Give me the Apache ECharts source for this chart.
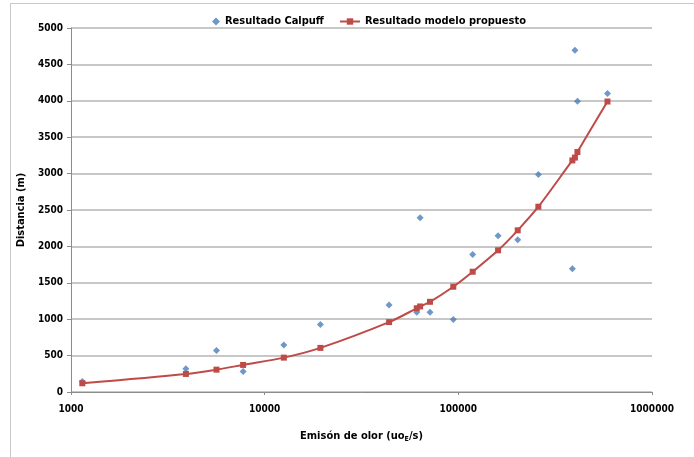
<!DOCTYPE html>
<html>
<head>
<meta charset="utf-8">
<script src="https://cdn.jsdelivr.net/npm/echarts@6/dist/echarts.min.js"></script>
<style>
  html, body { margin: 0; padding: 0; background: #fff; }
  #chart { width: 694px; height: 457px; }
</style>
</head>
<body>
<div id="chart"></div>
<script>
// Emission rates (uoE/s) shared by both series
const emisiones = [1144, 3920, 5640, 7740, 12560, 19400, 43900, 61000, 63500, 71400,
                   94200, 118600, 160400, 202600, 259000, 388000, 400000, 412000, 589000];
// Distances from the Calpuff runs (m)
const calpuff = [145, 321, 569, 280, 647, 927, 1194, 1097, 2392, 1097,
                 996, 1890, 2148, 2093, 2988, 1694, 4696, 3993, 4099];
// Distances from the proposed model (m)
const modelo = [120, 248, 307, 372, 472, 606, 960, 1150, 1175, 1239,
                1446, 1652, 1946, 2221, 2545, 3181, 3220, 3296, 3990];
const xTicks = [1000, 10000, 100000, 1000000];
const yTicks = [0, 500, 1000, 1500, 2000, 2500, 3000, 3500, 4000, 4500, 5000];

const FONT = '"Liberation Sans Narrow", "DejaVu Sans Condensed", "Liberation Sans", sans-serif';
const BLUE = '#4a7ebb';
const RED = '#be4b48';
const legendText = { fontFamily: FONT, fontSize: 11, fontWeight: 'bold', color: '#000' };

const chart = echarts.init(document.getElementById('chart'), null, { renderer: 'canvas' });
chart.setOption({
  animation: false,
  backgroundColor: '#fff',
  textStyle: { fontFamily: FONT },
  graphic: [{
    type: 'rect',
    shape: { x: 10.5, y: 3.5, width: 700, height: 480 },
    style: { fill: 'none', stroke: '#c8c8c8', lineWidth: 1 },
    silent: true
  }],
  legend: [
    {
      top: 11,
      left: 207,
      itemWidth: 8,
      itemHeight: 8,
      itemGap: 4,
      textStyle: legendText,
      data: [{ name: 'Resultado Calpuff', icon: 'diamond' }]
    },
    {
      top: 11,
      left: 334,
      itemWidth: 20,
      itemHeight: 8,
      textStyle: legendText,
      data: [{ name: 'Resultado modelo propuesto' }]
    }
  ],
  grid: { left: 71, right: 42, top: 28, bottom: 65 },
  xAxis: {
    type: 'log',
    logBase: 10,
    min: xTicks[0],
    max: xTicks[xTicks.length - 1],
    name: '{b|Emisón de olor (uo}{s|E}{b|/s)}',
    nameLocation: 'middle',
    nameGap: 38,
    nameTextStyle: {
      rich: {
        b: { fontFamily: FONT, fontSize: 11, fontWeight: 'bold', color: '#000' },
        s: { fontFamily: FONT, fontSize: 7, fontWeight: 'bold', color: '#000', verticalAlign: 'bottom', padding: [6, 0, 0, 0] }
      }
    },
    axisLine: { lineStyle: { color: '#8c8c8c', width: 1 } },
    axisTick: { show: true, length: 3, lineStyle: { color: '#8c8c8c' } },
    minorTick: { show: false },
    splitLine: { show: false },
    axisLabel: {
      margin: 12,
      fontFamily: FONT, fontSize: 10, fontWeight: 'bold', color: '#000',
      formatter: v => xTicks.includes(Math.round(v)) ? String(Math.round(v)) : ''
    }
  },
  yAxis: {
    type: 'value',
    min: yTicks[0],
    max: yTicks[yTicks.length - 1],
    interval: 500,
    name: 'Distancia (m)',
    nameLocation: 'middle',
    nameGap: 39,
    nameRotate: 90,
    nameTextStyle: { fontFamily: FONT, fontSize: 11, fontWeight: 'bold', color: '#000' },
    axisLine: { show: true, lineStyle: { color: '#8c8c8c', width: 1 } },
    axisTick: { show: true, length: 4, lineStyle: { color: '#8c8c8c' } },
    splitLine: { show: true, lineStyle: { color: '#b4b4b4', width: 1.5 } },
    axisLabel: {
      margin: 8,
      fontFamily: FONT, fontSize: 10, fontWeight: 'bold', color: '#000',
      formatter: v => String(v)
    }
  },
  series: [
    {
      name: 'Resultado Calpuff',
      type: 'scatter',
      symbol: 'diamond',
      symbolSize: 7,
      itemStyle: { color: BLUE },
      data: emisiones.map((x, i) => [x, calpuff[i]]),
      z: 3
    },
    {
      name: 'Resultado modelo propuesto',
      type: 'line',
      smooth: 0.3,
      symbol: 'rect',
      symbolSize: 6,
      showAllSymbol: true,
      lineStyle: { color: RED, width: 2 },
      itemStyle: { color: RED },
      data: emisiones.map((x, i) => [x, modelo[i]]),
      z: 4
    }
  ]
});
</script>
</body>
</html>
